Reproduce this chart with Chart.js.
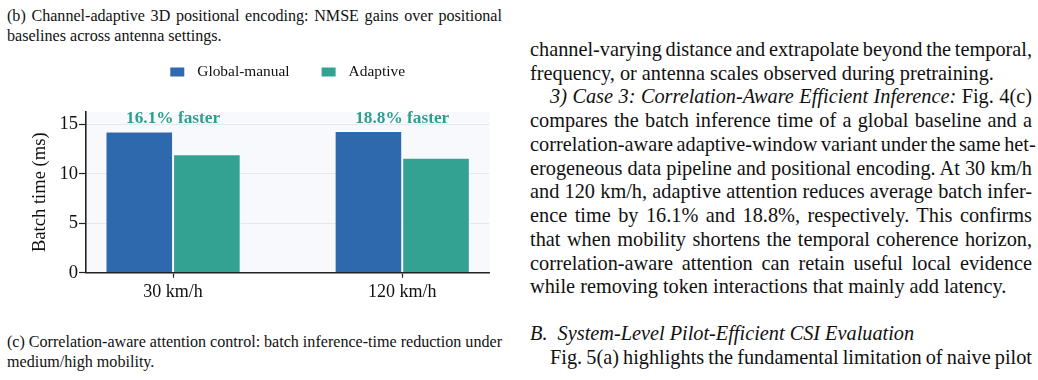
<!DOCTYPE html>
<html>
<head>
<meta charset="utf-8">
<script src="https://cdn.jsdelivr.net/npm/chart.js@4.4.1/dist/chart.umd.min.js"></script>
<style>
  html, body { margin: 0; padding: 0; background: #fff; }
  body {
    width: 1038px; height: 380px; position: relative; overflow: hidden;
    font-family: "Liberation Serif", "Times New Roman", serif; color: #111;
  }
  .cap { position: absolute; left: 7px; width: 495px; font-size: 16.1px; line-height: 20px; }
  .col { position: absolute; left: 530px; width: 502px; font-size: 20.3px; line-height: 23.73px; }
  .j { text-align: justify; text-align-last: justify; white-space: nowrap; word-spacing: -1.5px; }
  .ind { padding-left: 20px; }
  #chartBox { position: absolute; left: 0; top: 0; }
</style>
</head>
<body>

<div class="cap" style="top:6px;">
  <div class="j">(b) Channel-adaptive 3D positional encoding: NMSE gains over positional</div>
  <div>baselines across antenna settings.</div>
</div>

<div class="cap" style="top:332px;">
  <div class="j">(c) Correlation-aware attention control: batch inference-time reduction under</div>
  <div>medium/high mobility.</div>
</div>

<div class="col" style="top:38px;">
  <div class="j">channel-varying distance and extrapolate beyond the temporal,</div>
  <div>frequency, or antenna scales observed during pretraining.</div>
  <div class="j ind"><i>3) Case 3: Correlation-Aware Efficient Inference:</i> Fig. 4(c)</div>
  <div class="j">compares the batch inference time of a global baseline and a</div>
  <div class="j">correlation-aware adaptive-window variant under the same het-</div>
  <div class="j">erogeneous data pipeline and positional encoding. At 30 km/h</div>
  <div class="j">and 120 km/h, adaptive attention reduces average batch infer-</div>
  <div class="j">ence time by 16.1% and 18.8%, respectively. This confirms</div>
  <div class="j">that when mobility shortens the temporal coherence horizon,</div>
  <div class="j">correlation-aware attention can retain useful local evidence</div>
  <div>while removing token interactions that mainly add latency.</div>
</div>

<div class="col" style="top:322px;">
  <div><i>B.&nbsp;&nbsp;System-Level Pilot-Efficient CSI Evaluation</i></div>
  <div class="j ind">Fig. 5(a) highlights the fundamental limitation of naive pilot</div>
</div>

<canvas id="chartBox" width="575" height="380"></canvas>

<script>
// batch inference time per mobility setting
const categories = ['30 km/h', '120 km/h'];
const globalManual = [14.3, 14.35];
const adaptive = [12.0, 11.65];
const gainLabels = ['16.1% faster', '18.8% faster'];
const seriesNames = ['Global-manual', 'Adaptive'];
const seriesColors = ['#2e69ad', '#34a293'];
const yTicks = [0, 5, 10, 15];

const serif = '"Liberation Serif", "Times New Roman", serif';

// light panel behind the bars
const plotBackground = {
    id: 'plotBackground',
    beforeDraw(chart) {
        const { ctx, chartArea: a } = chart;
        ctx.save();
        ctx.fillStyle = '#f8f9fc';
        ctx.fillRect(a.left, a.top, a.right - a.left, a.bottom - a.top);
        ctx.restore();
    }
};

// "xx% faster" above each group
const gainText = {
    id: 'gainText',
    afterDatasetsDraw(chart) {
        const { ctx, chartArea: a } = chart;
        const xs = chart.scales.x;
        ctx.save();
        ctx.font = 'bold 17.3px ' + serif;
        ctx.fillStyle = '#2e9e8e';
        ctx.textAlign = 'center';
        ctx.textBaseline = 'alphabetic';
        gainLabels.forEach((t, i) => {
            ctx.fillText(t, xs.getPixelForValue(i), a.top + 11);
        });
        ctx.restore();
    }
};

// legend row, centred over the plot
const legendRow = {
    id: 'legendRow',
    afterDraw(chart) {
        const { ctx, chartArea: a } = chart;
        ctx.save();
        ctx.font = '15.4px ' + serif;
        const box = 14, gap = 13, itemGap = 32;
        const widths = seriesNames.map(n => ctx.measureText(n).width);
        let total = 0;
        widths.forEach((w, i) => { total += box + gap + w + (i ? itemGap : 0); });
        let x = (a.left + a.right) / 2 - total / 2;
        seriesNames.forEach((n, i) => {
            ctx.fillStyle = seriesColors[i];
            ctx.fillRect(x, 67.5, box, 9);
            ctx.fillStyle = '#111';
            ctx.textBaseline = 'alphabetic';
            ctx.fillText(n, x + box + gap, 76);
            x += box + gap + widths[i] + itemGap;
        });
        ctx.restore();
    }
};

new Chart(document.getElementById('chartBox'), {
    type: 'bar',
    data: {
        datasets: [
            {
                label: seriesNames[0],
                data: globalManual.map((v, i) => ({ x: i, y: v })),
                backgroundColor: seriesColors[0]
            },
            {
                label: seriesNames[1],
                data: adaptive.map((v, i) => ({ x: i, y: v })),
                backgroundColor: seriesColors[1]
            }
        ]
    },
    plugins: [plotBackground, gainText, legendRow],
    options: {
        responsive: false,
        animation: false,
        layout: { padding: { left: 0, right: 85.7, top: 111.7, bottom: 67.3 } },
        datasets: {
            bar: {
                categoryPercentage: 0.59,
                barPercentage: 1,
                borderWidth: 1,
                borderColor: 'rgba(255,255,255,0.75)'
            }
        },
        plugins: { legend: { display: false }, tooltip: { enabled: false } },
        scales: {
            x: {
                type: 'linear',
                offset: false,
                min: -0.38,
                max: 1.38,
                afterBuildTicks: s => { s.ticks = categories.map((c, i) => ({ value: i })); },
                afterFit: s => { s.height = 40; },
                ticks: {
                    callback: v => categories[v],
                    font: { family: serif, size: 18 },
                    color: '#111',
                    padding: 4,
                    maxRotation: 0
                },
                grid: {
                    offset: false,
                    drawOnChartArea: false,
                    drawTicks: true,
                    tickLength: 5,
                    tickColor: '#222',
                    tickWidth: 1.2
                },
                border: { display: true, color: '#222', width: 1.6, z: 1 }
            },
            y: {
                min: 0,
                max: 16.3,
                afterBuildTicks: s => { s.ticks = yTicks.map(v => ({ value: v })); },
                afterFit: s => { s.width = 86; },
                ticks: {
                    font: { family: serif, size: 18.6 },
                    color: '#111',
                    padding: 1
                },
                grid: {
                    color: '#e5e8ee',
                    lineWidth: 1,
                    tickLength: 7,
                    tickColor: '#222',
                    tickWidth: 1.2
                },
                border: { display: true, color: '#222', width: 1.6, z: 1 },
                title: {
                    display: true,
                    text: 'Batch time (ms)',
                    font: { family: serif, size: 18.6, lineHeight: 1.2 },
                    color: '#111',
                    padding: { top: 29.2, bottom: 0 }
                }
            }
        }
    }
});
</script>
</body>
</html>
